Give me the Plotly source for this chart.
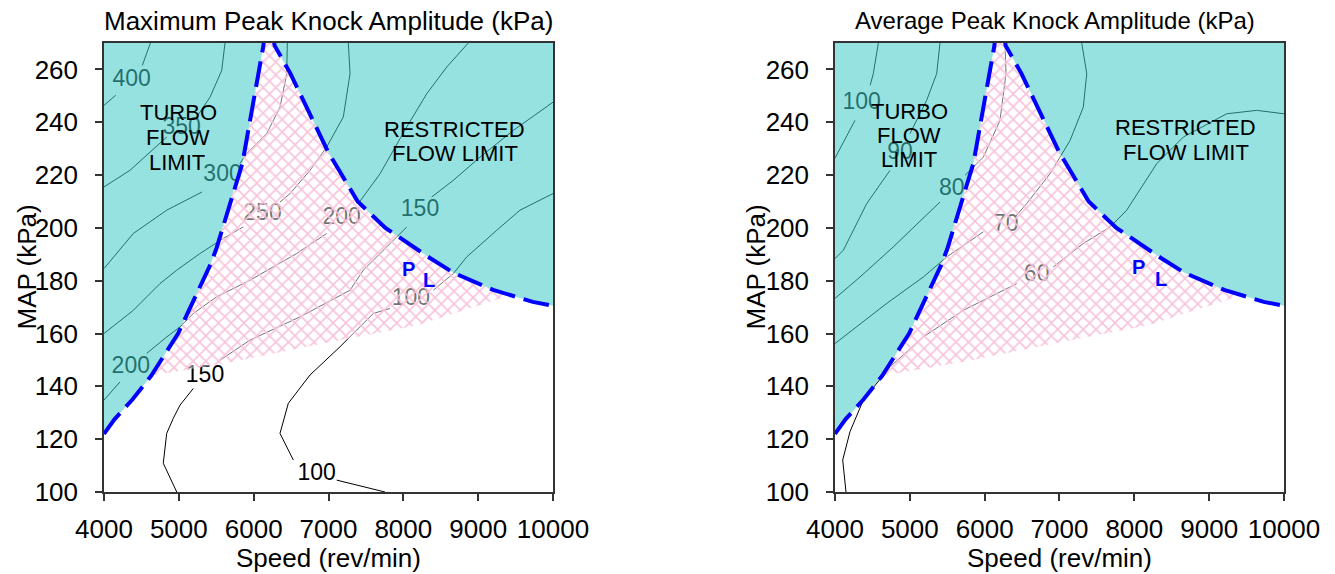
import plotly.graph_objects as go

FONT = "Liberation Sans, Arial, sans-serif"

# ---------------- shared region boundaries (Speed rev/min, MAP kPa) ----------------
TURBO_SPEED = [4000, 4140, 4380, 4630, 4990, 5420, 5500, 5790, 5850, 6130, 6150]
TURBO_MAP = [122, 127.5, 135, 144, 160, 186, 192, 220, 224.5, 269, 274]
RESTR_SPEED = [6250, 6280, 6490, 6990, 7390, 7760, 8350, 8670, 9200, 9730, 10000]
RESTR_MAP = [274, 269, 258.5, 229, 210, 200, 188.7, 183, 176.5, 172, 170.5]
PINK_LOW_SPEED = [4630, 5720, 7055, 8175, 9420]
PINK_LOW_MAP = [144, 149.3, 157, 163, 174.4]

# ---------------- Maximum peak knock amplitude contours ----------------
MAX_400_SPEED = [4620, 4512, None, 4156, 4000]
MAX_400_MAP = [270, 261.5, None, 250.2, 246.4]
MAX_350_SPEED = [5617, 5573, 5417, 5239, None, 4838, 4347, 4000]
MAX_350_MAP = [270, 259.6, 249.5, 242.0, None, 234.4, 221.8, 215.5]
MAX_300_SPEED = [6450, 6442, 6352, 6174, 5907, 5817, None, 5310, 4838, 4392, 4000]
MAX_300_MAP = [270, 258.4, 245.7, 235.7, 228.1, 224.4, None, 213.6, 206.7, 197.9, 184.6]
MAX_250_SPEED = [7265, 7288, 7198, 6976, 6753, 6486, 6352, None, 5862, 5594, 5283, 4972, 4748, 4392, 4000]
MAX_250_MAP = [270, 258.4, 242.0, 230.6, 221.8, 213.0, 209.8, None, 200.4, 196.0, 190.3, 184.0, 178.9, 168.8, 160.0]
MAX_200_SPEED = [8868, 8580, 8313, 8045, 7689, 7398, None, 6976, 6575, 5951, 5506, 5193, 5016, 4838, 4571, None, 4214, 4000]
MAX_200_MAP = [270, 260.9, 250.8, 238.2, 220.5, 209.2, None, 197.9, 190.3, 180.2, 173.9, 167.6, 162.5, 158.7, 152.5, None, 141.7, 134.8]
MAX_150_SPEED = [10000, 9470, 9025, 8668, 8379, None, 8045, 7822, 7465, 7288, 6619, 5951, 5550, None, 5193, 5016, 4926, 4838, 4792, 4972]
MAX_150_MAP = [247.6, 236.9, 226.8, 218.0, 211.7, None, 200.3, 194.1, 184.0, 176.4, 166.3, 157.5, 149.9, None, 139.2, 132.9, 127.9, 122.2, 110.9, 100]
MAX_100_SPEED = [10000, 9559, 9248, 8847, 8668, 8401, None, 7822, 7599, 7154, 6753, 6463, 6352, 6530, None, 7110, 7755]
MAX_100_MAP = [213.0, 206.7, 199.1, 189.0, 182.7, 176.4, None, 169.5, 167.6, 155.0, 144.3, 133.6, 122.2, 112.1, None, 104.5, 100]

MAX_LABEL_TEXT = ["400", "350", "300", "250", "200", "200", "150", "150", "100", "100"]
MAX_LABEL_SPEED = [4370, 5038, 5584, 6118, 7176, 4358, 8223, 5350, 8100, 6842]
MAX_LABEL_MAP = [255.8, 237.9, 219.9, 205.1, 203.8, 147.1, 206.7, 144.0, 172.9, 106.7]

# ---------------- Average peak knock amplitude contours ----------------
AVG_100_SPEED = [4579, 4512, 4470, None, 4267, 4000]
AVG_100_MAP = [270, 258.4, 254.0, None, 240.7, 226.4]
AVG_90_SPEED = [5403, 5359, 5225, 5002, None, 4735, 4424, 4111, 4000]
AVG_90_MAP = [270, 258.4, 248.3, 235.7, None, 221.8, 209.2, 191.5, 188.4]
AVG_80_SPEED = [6272, 6285, 6205, 5982, 5737, None, 5403, 4779, 4334, 4000]
AVG_80_MAP = [270, 258.4, 240.7, 226.8, 219.9, None, 209.8, 192.8, 181.4, 173.3]
AVG_70_SPEED = [7297, 7364, 7318, 7141, 6873, 6562, 6405, None, 5982, 5493, 5180, 4691, 4000]
AVG_70_MAP = [270, 258.4, 245.7, 233.1, 220.5, 209.2, 204.1, None, 198.5, 189.0, 181.4, 171.4, 156.2]
AVG_60_SPEED = [10000, 9636, 9235, 8655, 8299, 7898, 7675, 7318, 6917, None, 6428, 5715, 5180, 4735, 4378, 4200, 4103, 4147]
AVG_60_MAP = [243.2, 244.5, 243.2, 234.4, 224.3, 206.7, 200.3, 194.1, 185.2, None, 178.9, 168.8, 158.7, 147.4, 134.8, 122.8, 112.1, 100]

AVG_LABEL_TEXT = ["100", "90", "80", "70", "60"]
AVG_LABEL_SPEED = [4357, 4869, 5560, 6283, 6695]
AVG_LABEL_MAP = [247.3, 228.1, 214.5, 201.0, 182.1]

X_TICKS = [4000, 5000, 6000, 7000, 8000, 9000, 10000]
X_TICK_TEXT = ["4000", "5000", "6000", "7000", "8000", "9000", "10000"]
Y_TICKS = [100, 120, 140, 160, 180, 200, 220, 240, 260]
Y_TICK_TEXT = ["100", "120", "140", "160", "180", "200", "220", "240", "260"]

CYAN = "rgba(64,202,199,0.55)"
BLUE = "#0000FF"

fig = go.Figure()


def add_panel(xa, ya, contours, lab_text, lab_x, lab_y):
    common = dict(xaxis=xa, yaxis=ya, hoverinfo="skip", showlegend=False)
    for sx, sy in contours:
        fig.add_trace(go.Scatter(x=sx, y=sy, mode="lines", connectgaps=False,
                                 line=dict(color="black", width=1), **common))
    fig.add_trace(go.Scatter(x=lab_x, y=lab_y, text=lab_text, mode="text",
                             textposition="middle center",
                             textfont=dict(family=FONT, size=23, color="black"), **common))
    # pink cross-hatched operating region
    tx = [s for s in TURBO_SPEED if s >= PINK_LOW_SPEED[0]]
    ty = TURBO_MAP[len(TURBO_SPEED) - len(tx):]
    rx = [s for s in RESTR_SPEED if s < PINK_LOW_SPEED[-1]]
    ry = RESTR_MAP[:len(rx)]
    pxs = tx + rx + PINK_LOW_SPEED[::-1]
    pys = ty + ry + PINK_LOW_MAP[::-1]
    fig.add_trace(go.Scatter(x=pxs, y=pys, mode="none", fill="toself",
                             fillcolor="rgba(255,255,255,0.45)", **common))
    fig.add_trace(go.Scatter(x=pxs, y=pys, mode="none", fill="toself",
                             fillcolor="rgba(255,255,255,0)",
                             fillpattern=dict(shape="x", size=9, solidity=0.32,
                                              fgcolor="#F8C2D9", bgcolor="rgba(255,255,255,0)",
                                              fgopacity=1),
                             **common))
    # cyan limit regions
    fig.add_trace(go.Scatter(x=TURBO_SPEED + [4000], y=TURBO_MAP + [274], mode="none",
                             fill="toself", fillcolor=CYAN, **common))
    fig.add_trace(go.Scatter(x=RESTR_SPEED + [10000], y=RESTR_MAP + [274], mode="none",
                             fill="toself", fillcolor=CYAN, **common))
    # dashed boundaries
    for sx, sy in ((TURBO_SPEED, TURBO_MAP), (RESTR_SPEED, RESTR_MAP)):
        fig.add_trace(go.Scatter(x=sx, y=sy, mode="lines",
                                 line=dict(color=BLUE, width=4, dash="26px,9px"), **common))


add_panel("x", "y",
          [(MAX_400_SPEED, MAX_400_MAP), (MAX_350_SPEED, MAX_350_MAP), (MAX_300_SPEED, MAX_300_MAP),
           (MAX_250_SPEED, MAX_250_MAP), (MAX_200_SPEED, MAX_200_MAP), (MAX_150_SPEED, MAX_150_MAP),
           (MAX_100_SPEED, MAX_100_MAP)],
          MAX_LABEL_TEXT, MAX_LABEL_SPEED, MAX_LABEL_MAP)
add_panel("x2", "y2",
          [(AVG_100_SPEED, AVG_100_MAP), (AVG_90_SPEED, AVG_90_MAP), (AVG_80_SPEED, AVG_80_MAP),
           (AVG_70_SPEED, AVG_70_MAP), (AVG_60_SPEED, AVG_60_MAP)],
          AVG_LABEL_TEXT, AVG_LABEL_SPEED, AVG_LABEL_MAP)

axis_common = dict(showgrid=False, zeroline=False, showline=True, mirror=True,
                   linecolor="#333333", linewidth=1.5, ticks="outside", ticklen=7,
                   tickwidth=1.5, tickcolor="#333333",
                   tickfont=dict(family=FONT, size=26, color="black"))

fig.update_layout(
    width=1335, height=574,
    margin=dict(l=104, r=51, t=43, b=82),
    paper_bgcolor="white", plot_bgcolor="white",
    showlegend=False,
    xaxis=dict(domain=[0, 0.38051], range=[4000, 10000], tickvals=X_TICKS, ticktext=X_TICK_TEXT,
               ticklabelstandoff=6, **axis_common),
    yaxis=dict(domain=[0, 1], range=[100, 270], tickvals=Y_TICKS, ticktext=Y_TICK_TEXT,
               ticklabelstandoff=12, **axis_common),
    xaxis2=dict(domain=[0.61949, 1], range=[4000, 10000], tickvals=X_TICKS, ticktext=X_TICK_TEXT,
                ticklabelstandoff=6, anchor="y2", **axis_common),
    yaxis2=dict(domain=[0, 1], range=[100, 270], tickvals=Y_TICKS, ticktext=Y_TICK_TEXT,
                ticklabelstandoff=12, anchor="x2", **axis_common),
)

ann = []


def txt(text, x, y, size, xref="paper", yref="paper", color="black", angle=0, bold=False,
        xanchor="center", yanchor="middle"):
    ann.append(dict(text=("<b>%s</b>" % text) if bold else text, x=x, y=y, xref=xref, yref=yref,
                    showarrow=False, textangle=angle, xanchor=xanchor, yanchor=yanchor,
                    font=dict(family=FONT, size=size, color=color)))


txt("Maximum Peak Knock Amplitude (kPa)", 0.19025, 1.049, 26)
txt("Average Peak Knock Amplitude (kPa)", 0.806, 1.049, 24)
txt("MAP (kPa)", -0.0661, 0.5, 26, angle=-90)
txt("MAP (kPa)", 0.5517, 0.5, 26, angle=-90)
txt("Speed (rev/min)", 0.19025, -0.148, 26)
txt("Speed (rev/min)", 0.8098, -0.148, 26)

for xr, yr, pos in (("x", "y", dict(t=(4993, 243.8), f=(4993, 234.4), l=(4971, 224.9),
                                     r=(8680, 237.2), fl=(8690, 228.1), p=(8067, 184.6), L=(8347, 180.2))),
                    ("x2", "y2", dict(t=(4992, 244.2), f=(4992, 234.9), l=(4992, 225.9),
                                       r=(8684, 237.9), fl=(8684, 228.7), p=(8053, 185.2), L=(8353, 180.8)))):
    txt("TURBO", pos["t"][0], pos["t"][1], 22, xr, yr)
    txt("FLOW", pos["f"][0], pos["f"][1], 22, xr, yr)
    txt("LIMIT", pos["l"][0], pos["l"][1], 22, xr, yr)
    txt("RESTRICTED", pos["r"][0], pos["r"][1], 22, xr, yr)
    txt("FLOW LIMIT", pos["fl"][0], pos["fl"][1], 22, xr, yr)
    txt("P", pos["p"][0], pos["p"][1], 20, xr, yr, color=BLUE, bold=True)
    txt("L", pos["L"][0], pos["L"][1], 20, xr, yr, color=BLUE, bold=True)

fig.update_layout(annotations=ann)
fig.write_html("out.html")
